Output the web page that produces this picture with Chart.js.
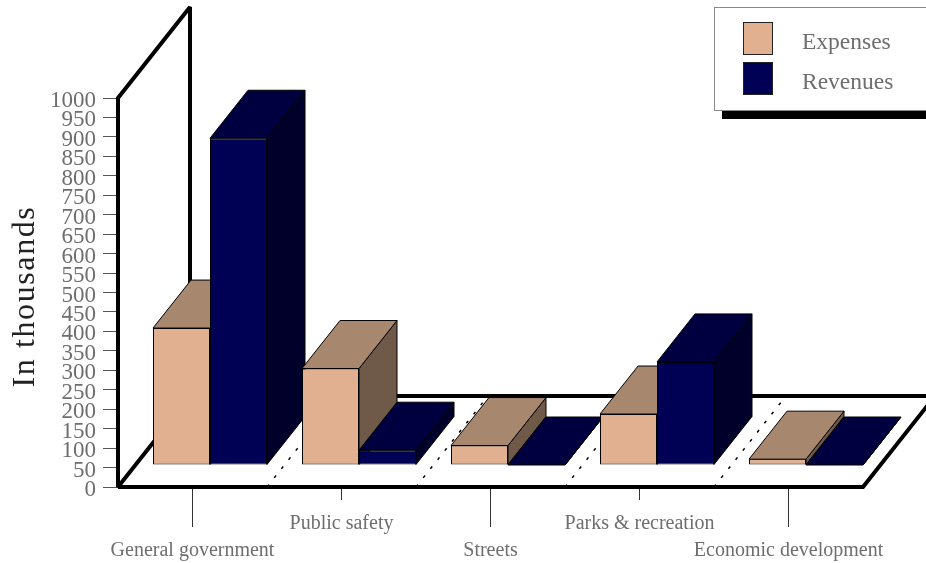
<!DOCTYPE html>
<html lang="en">
<head>
    <meta charset="UTF-8">
    <title>Expenses and revenues by function</title>
    <script src="https://cdn.jsdelivr.net/npm/chart.js"></script>
    <style>
        html, body {
            margin: 0;
            padding: 0;
            background: #fff;
        }

        canvas {
            display: block;
        }
    </style>
</head>
<body>
    <canvas id="functions-chart" width="926" height="563"></canvas>

    <script>
        // Values in thousands
        const categories = ['General government', 'Public safety', 'Streets', 'Parks & recreation', 'Economic development'];
        const expenses = [352, 248, 50, 131, 15];
        const revenues = [840, 38, 0, 265, 0];

        const seriesNames = ['Expenses', 'Revenues'];
        const yAxisTitle = 'In thousands';

        const peach = { front: '#e0b090', top: '#a8876f', side: '#6f5a49' };
        const navy = { front: '#000055', top: '#000040', side: '#00002b' };

        const serifFont = '"Liberation Serif", "Times New Roman", serif';
        const textColor = '#6e6e6e';

        // Perspective offsets, in pixels
        const floorDepth = { x: 72, y: -91 };
        const barShift = { x: 17.5, y: -22 };
        const barDepth = { x: 38, y: -48 };

        function polygon(ctx, points, fill, stroke) {
            ctx.beginPath();
            points.forEach((p, i) => i ? ctx.lineTo(p[0], p[1]) : ctx.moveTo(p[0], p[1]));
            ctx.closePath();
            if (fill) {
                ctx.fillStyle = fill;
                ctx.fill();
            }
            if (stroke) {
                ctx.strokeStyle = stroke;
                ctx.lineWidth = 1;
                ctx.stroke();
            }
        }

        function thickLine(ctx, points) {
            ctx.beginPath();
            points.forEach((p, i) => i ? ctx.lineTo(p[0], p[1]) : ctx.moveTo(p[0], p[1]));
            ctx.strokeStyle = '#000';
            ctx.lineWidth = 4;
            ctx.lineJoin = 'miter';
            ctx.miterLimit = 2;
            ctx.stroke();
        }

        // Wall and floor outline, dashed floor dividers, long and short category ticks
        function drawFrame(chart) {
            const ctx = chart.ctx;
            const xs = chart.scales.x;
            const ys = chart.scales.y;
            const left = xs.left;
            const right = xs.right;
            const y0 = ys.getPixelForValue(0);
            const yMax = ys.getPixelForValue(1000);

            ctx.save();
            thickLine(ctx, [[left + floorDepth.x, y0 + floorDepth.y], [left + floorDepth.x, yMax + floorDepth.y], [left, yMax], [left, y0], [left + floorDepth.x, y0 + floorDepth.y]]);
            thickLine(ctx, [[left + floorDepth.x, y0 + floorDepth.y], [right + floorDepth.x, y0 + floorDepth.y], [right, y0], [left, y0]]);

            const band = (right - left) / categories.length;
            ctx.strokeStyle = '#000';
            ctx.lineWidth = 1.5;
            ctx.setLineDash([3, 8.6]);
            for (let i = 1; i < categories.length; i++) {
                const x = left + band * i;
                ctx.beginPath();
                ctx.moveTo(x, y0);
                ctx.lineTo(x + floorDepth.x, y0 + floorDepth.y);
                ctx.stroke();
            }
            ctx.setLineDash([]);

            ctx.strokeStyle = '#333';
            ctx.lineWidth = 1;
            categories.forEach((c, i) => {
                const x = Math.round(xs.getPixelForTick(i)) - 0.5;
                ctx.beginPath();
                ctx.moveTo(x, y0 + 2);
                ctx.lineTo(x, y0 + (i % 2 ? 13 : 40));
                ctx.stroke();
            });
            ctx.restore();
        }

        // Bars go left to right so nearer faces overlap the ones behind them
        function drawBars(chart) {
            const ctx = chart.ctx;
            ctx.save();
            ctx.translate(barShift.x, barShift.y);
            categories.forEach((c, i) => {
                chart.data.datasets.forEach((ds, d) => {
                    const bar = chart.getDatasetMeta(d).data[i];
                    const l = bar.x - bar.width / 2;
                    const r = bar.x + bar.width / 2;
                    const t = bar.y;
                    const b = bar.base;
                    const dx = barDepth.x;
                    const dy = barDepth.y;
                    polygon(ctx, [[r, t], [r + dx, t + dy], [r + dx, b + dy], [r, b]], ds.faces.side, '#000');
                    polygon(ctx, [[l, t], [l + dx, t + dy], [r + dx, t + dy], [r, t]], ds.faces.top, '#000');
                    bar.draw(ctx);
                });
            });
            ctx.restore();
        }

        function drawLegend(chart) {
            const ctx = chart.ctx;
            ctx.save();
            ctx.fillStyle = '#000';
            ctx.fillRect(722, 110, 210, 9);
            ctx.fillStyle = '#fff';
            ctx.strokeStyle = '#8a8a8a';
            ctx.lineWidth = 1;
            ctx.fillRect(714.5, 7.5, 220, 103);
            ctx.strokeRect(714.5, 7.5, 220, 103);

            ctx.font = '23.5px ' + serifFont;
            ctx.textBaseline = 'middle';
            chart.data.datasets.forEach((ds, d) => {
                const top = 22.5 + d * 40;
                ctx.fillStyle = ds.backgroundColor;
                ctx.strokeStyle = '#222';
                ctx.fillRect(743.5, top, 29, 32);
                ctx.strokeRect(743.5, top, 29, 32);
                ctx.fillStyle = textColor;
                ctx.fillText(ds.label, 802, 43 + d * 40);
            });
            ctx.restore();
        }

        const perspectivePlugin = {
            id: 'perspective',
            beforeDatasetsDraw(chart) {
                drawFrame(chart);
                drawBars(chart);
                return false;
            },
            afterDraw(chart) {
                drawLegend(chart);
            }
        };

        const sharedBar = {
            borderColor: '#000',
            borderWidth: 1,
            borderSkipped: false,
            categoryPercentage: 114 / 149,
            barPercentage: 1
        };

        new Chart(document.getElementById('functions-chart'), {
            type: 'bar',
            data: {
                labels: categories,
                datasets: [
                    { label: seriesNames[0], data: expenses, backgroundColor: peach.front, faces: peach, ...sharedBar },
                    { label: seriesNames[1], data: revenues, backgroundColor: navy.front, faces: navy, ...sharedBar }
                ]
            },
            plugins: [perspectivePlugin],
            options: {
                responsive: false,
                animation: false,
                layout: { padding: { left: 0, top: 98, right: 63, bottom: 0 } },
                plugins: {
                    legend: { display: false },
                    tooltip: { enabled: false }
                },
                scales: {
                    x: {
                        afterFit(scale) { scale.height = 76; },
                        grid: { display: false, drawTicks: false },
                        border: { display: false },
                        ticks: {
                            autoSkip: false,
                            maxRotation: 0,
                            padding: 23,
                            color: textColor,
                            font: { family: serifFont, size: 20, lineHeight: 1.35 },
                            // Every other label drops to a second row
                            callback(value, i) {
                                return i % 2 ? [categories[i]] : ['', categories[i]];
                            }
                        }
                    },
                    y: {
                        min: 0,
                        max: 1000,
                        afterFit(scale) { scale.width = 118; },
                        // Title is tracked out a little and sits just below the axis centre.
                        // The scale updates more than once, so only wrap drawTitle the first time.
                        afterUpdate(scale) {
                            if (scale.titleWrapped) return;
                            scale.titleWrapped = true;
                            const drawTitle = scale.drawTitle;
                            scale.drawTitle = function () {
                                const ctx = scale.ctx;
                                ctx.save();
                                ctx.letterSpacing = '1.6px';
                                ctx.translate(0, 4);
                                drawTitle.call(scale);
                                ctx.restore();
                            };
                        },
                        grid: { drawOnChartArea: false, tickLength: 15, tickColor: '#555', tickWidth: 1 },
                        border: { display: false },
                        title: {
                            display: true,
                            text: yAxisTitle,
                            color: '#222',
                            font: { family: serifFont, size: 32, lineHeight: 1 },
                            padding: { top: 10, bottom: 0 }
                        },
                        ticks: {
                            stepSize: 50,
                            autoSkip: false,
                            padding: 7,
                            color: textColor,
                            font: { family: serifFont, size: 23, lineHeight: '6px' },
                            // Blank first line nudges the digits just under the tick
                            callback(value) {
                                return ['', String(value)];
                            }
                        }
                    }
                }
            }
        });
    </script>
</body>
</html>
